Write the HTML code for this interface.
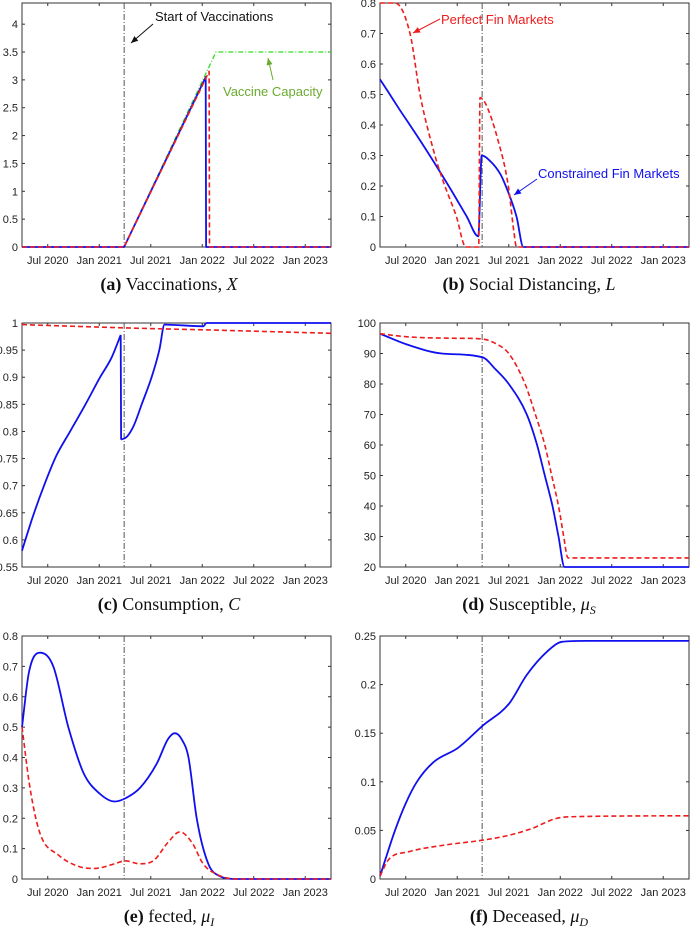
<!DOCTYPE html>
<html><head><meta charset="utf-8"><style>
html,body{margin:0;padding:0;background:#fff;}
svg{display:block;font-family:"Liberation Sans",sans-serif;}
.tk{font-size:11px;fill:#222;}
.cap{font-family:"Liberation Serif",serif;font-size:18px;fill:#111;}
</style></head><body>
<svg id="fig" width="690" height="926" viewBox="0 0 690 926"></svg>
<script>
// time axis: months since Apr 2020
const xTickMonths=[3,9,15,21,27,33];
const xTickLabels=["Jul 2020","Jan 2021","Jul 2021","Jan 2022","Jul 2022","Jan 2023"];
const vaxStart=11.9;
// (a) Vaccinations
const aBlueT=[0,11.9,21.4,21.45,36], aBlueV=[0,0,3.05,0,0];
const aRedT=[0,11.9,21.8,21.85,36], aRedV=[0,0,3.15,0,0];
const aGreenT=[0,11.9,22.6,36], aGreenV=[0,0,3.5,3.5];
// (b) Social distancing
const bRedT=[0,1.75,3.5,4.66,6.4,7.3,8.9,10.0,11.5,11.65,12.3,13.75,14.95,15.6,15.9,36];
const bRedV=[0.8,0.8,0.7,0.5,0.3,0.22,0.1,0,0,0.49,0.47,0.35,0.2,0.05,0,0];
const bBlueT=[0,2.3,4.66,8.0,10.1,11.45,11.85,12.9,14.0,14.8,15.9,16.7,36];
const bBlueV=[0.55,0.45,0.35,0.2,0.1,0.035,0.3,0.28,0.24,0.19,0.1,0,0];
// (c) Consumption
const cBlueT=[0,1.2,2.56,4.0,5.6,7.4,9.1,10.4,11.5,11.55,12.2,13.0,13.95,15.1,16.0,16.6,21.1,21.5,36];
const cBlueV=[0.58,0.64,0.7,0.755,0.8,0.85,0.9,0.935,0.978,0.785,0.79,0.81,0.85,0.9,0.95,0.997,0.994,1.0,1.0];
const cRedT=[0,12,22,36], cRedV=[0.997,0.991,0.987,0.981];
// (d) Susceptible
const dBlueT=[0,3.1,7.2,12,13.4,15,17.1,18.3,19.2,20.1,20.8,21.5,36];
const dBlueV=[96.5,93,90,88.7,85,80,70,60,50,40,30,20,20];
const dRedT=[0,3,9,11.8,13.3,15,16.9,18.1,19.2,20,20.8,21.4,21.9,36];
const dRedV=[96.5,95.5,95,94.8,93.5,90,80,70,60,50,40,30,23,23];
// (e) Infected
const eBlueT=[0,0.8,2.1,3.65,5.4,7.15,9.1,10.8,12,13.75,15.7,17.0,17.8,18.6,19.4,20.35,21.7,23,25,36];
const eBlueV=[0.5,0.68,0.745,0.7,0.5,0.35,0.28,0.255,0.265,0.3,0.38,0.46,0.48,0.46,0.4,0.2,0.05,0.01,0,0];
const eRedT=[0,0.93,2.1,4.2,6.75,8.5,10.8,12,13.75,15.3,17,18.4,19.8,21.1,22.7,25,36];
const eRedV=[0.5,0.3,0.15,0.08,0.04,0.035,0.05,0.06,0.05,0.06,0.12,0.155,0.12,0.05,0.015,0,0];
// (f) Deceased
const fBlueT=[0,1.75,3,4.3,6.2,9.1,12,15,17.1,19.6,21.2,24,36];
const fBlueV=[0.003,0.05,0.078,0.1,0.12,0.135,0.158,0.18,0.21,0.235,0.244,0.245,0.245];
const fRedT=[0,1,3.3,7.6,12,15,17.7,20.4,22,36];
const fRedV=[0.003,0.02,0.028,0.035,0.04,0.045,0.052,0.062,0.064,0.065];

const NS="http://www.w3.org/2000/svg";
const svg=document.getElementById('fig');
function mk(tag,attrs,parent){const e=document.createElementNS(NS,tag);for(const k in attrs)e.setAttribute(k,attrs[k]);(parent||svg).appendChild(e);return e;}

// monotone cubic path through pixel points
function monoPath(P){
  const n=P.length;
  if(n<3)return 'M'+P.map(p=>p[0].toFixed(1)+','+p[1].toFixed(1)).join(' L');
  const d=[],m=[];
  for(let i=0;i<n-1;i++){const dx=P[i+1][0]-P[i][0];d.push(dx===0?0:(P[i+1][1]-P[i][1])/dx);}
  m[0]=d[0];m[n-1]=d[n-2];
  for(let i=1;i<n-1;i++){m[i]=(d[i-1]*d[i]<=0)?0:(d[i-1]+d[i])/2;}
  for(let i=0;i<n-1;i++){
    if(d[i]===0){m[i]=0;m[i+1]=0;continue;}
    const a=m[i]/d[i],b=m[i+1]/d[i],s=a*a+b*b;
    if(s>9){const t=3/Math.sqrt(s);m[i]=t*a*d[i];m[i+1]=t*b*d[i];}
  }
  let s='M'+P[0][0].toFixed(1)+','+P[0][1].toFixed(1);
  for(let i=0;i<n-1;i++){
    const h=(P[i+1][0]-P[i][0])/3;
    s+=' C'+(P[i][0]+h).toFixed(1)+','+(P[i][1]+m[i]*h).toFixed(1)+' '+(P[i+1][0]-h).toFixed(1)+','+(P[i+1][1]-m[i+1]*h).toFixed(1)+' '+P[i+1][0].toFixed(1)+','+P[i+1][1].toFixed(1);
  }
  return s;
}
function buildPath(P){
  // split at near-vertical jumps
  const segs=[[P[0]]];
  for(let i=1;i<P.length;i++){
    if(P[i][0]-P[i-1][0]<1.0){segs.push([P[i-1],P[i]]);segs.push([P[i]]);}
    else segs[segs.length-1].push(P[i]);
  }
  return segs.filter(s=>s.length>1).map(monoPath).join(' ');
}

function panel(cfg){
  const g=mk('g',{});
  
  
  const L=cfg.x0,R=cfg.x1,T=cfg.y0,B=cfg.y1;
  const sx=t=>L+(R-L)*t/36;
  const sy=v=>B-(B-T)*(v-cfg.ymin)/(cfg.ymax-cfg.ymin);
  const box=mk('rect',{x:L,y:T,width:R-L,height:B-T,fill:'none',stroke:'#333','stroke-width':1},g);
  
  
  xTickMonths.forEach((m,i)=>{
    const x=sx(m);
    mk('line',{x1:x,x2:x,y1:B,y2:B-3,stroke:'#333'},g);
    mk('line',{x1:x,x2:x,y1:T,y2:T+3,stroke:'#333'},g);
    const t=mk('text',{x:x,y:B+17,'text-anchor':'middle',class:'tk'},g);
    t.textContent=xTickLabels[i];
    
    
  });
  cfg.yTicks.forEach((v,i)=>{
    const y=sy(v);
    mk('line',{x1:L,x2:L+3,y1:y,y2:y,stroke:'#333'},g);
    mk('line',{x1:R,x2:R-3,y1:y,y2:y,stroke:'#333'},g);
    const t=mk('text',{x:L-4,y:y+4,'text-anchor':'end',class:'tk'},g);
    t.textContent=cfg.yLabels[i];
    
    
  });
  const vl=mk('line',{x1:sx(vaxStart),x2:sx(vaxStart),y1:T,y2:B,stroke:'#555','stroke-width':1,'stroke-dasharray':'6,2,1,2'},g);
  
  
  cfg.series.forEach(s=>{
    const P=s.t.map((t,i)=>[sx(t),sy(s.v[i])]);
    const p=mk('path',{d:s.straight?'M'+P.map(q=>q[0].toFixed(1)+','+q[1].toFixed(1)).join(' L'):buildPath(P),fill:'none',stroke:s.color,'stroke-width':s.w,'stroke-dasharray':s.dash||'none','stroke-linejoin':'round'},g);
    
    
  });
  const c=mk('text',{x:cfg.capX,y:cfg.capY,'text-anchor':'middle',class:'cap'},g);
  
  
  c.innerHTML='<tspan font-weight="bold">('+cfg.letter+')</tspan> '+cfg.cap;
  return {g,sx,sy};
}
const red='#ee1c1c',blue='#1010ee',green='#33dd22';
const RD='5,3';
function rng(a,b,s){const r=[];for(let v=a;v<=b+1e-9;v+=s)r.push(+v.toFixed(3));return r;}

panel({name:'panel-vaccinations',letter:'a',cap:'Vaccinations, <tspan font-style="italic">X</tspan>',x0:22,x1:331,y0:3,y1:247,ymin:0,ymax:4.38,
 yTicks:rng(0,4,0.5),yLabels:['0','0.5','1','1.5','2','2.5','3','3.5','4'],capX:169,capY:290,
 series:[{name:'vaccine-capacity-line',t:aGreenT,v:aGreenV,color:green,w:1.3,dash:'5,2,1,2',straight:true},
 {name:'constrained-fin-markets-line',t:aBlueT,v:aBlueV,color:blue,w:1.8,straight:true},
 {name:'perfect-fin-markets-line',t:aRedT,v:aRedV,color:red,w:1.6,dash:RD,straight:true}]});
panel({name:'panel-social-distancing',letter:'b',cap:'Social Distancing, <tspan font-style="italic">L</tspan>',x0:380,x1:689,y0:3,y1:247,ymin:0,ymax:0.8,
 yTicks:rng(0,0.8,0.1),yLabels:['0','0.1','0.2','0.3','0.4','0.5','0.6','0.7','0.8'],capX:529,capY:290,
 series:[{name:'constrained-fin-markets-line',t:bBlueT,v:bBlueV,color:blue,w:1.8},
 {name:'perfect-fin-markets-line',t:bRedT,v:bRedV,color:red,w:1.6,dash:RD}]});
panel({name:'panel-consumption',letter:'c',cap:'Consumption, <tspan font-style="italic">C</tspan>',x0:22,x1:331,y0:323,y1:567,ymin:0.55,ymax:1,
 yTicks:rng(0.55,1,0.05),yLabels:['0.55','0.6','0.65','0.7','0.75','0.8','0.85','0.9','0.95','1'],capX:169,capY:610,
 series:[{name:'constrained-fin-markets-line',t:cBlueT,v:cBlueV,color:blue,w:1.8},
 {name:'perfect-fin-markets-line',t:cRedT,v:cRedV,color:red,w:1.6,dash:RD}]});
panel({name:'panel-susceptible',letter:'d',cap:'Susceptible, <tspan font-style="italic">μ<tspan font-size="12" dy="4">S</tspan></tspan>',x0:380,x1:689,y0:323,y1:567,ymin:20,ymax:100,
 yTicks:rng(20,100,10),yLabels:['20','30','40','50','60','70','80','90','100'],capX:529,capY:610,
 series:[{name:'constrained-fin-markets-line',t:dBlueT,v:dBlueV,color:blue,w:1.8},
 {name:'perfect-fin-markets-line',t:dRedT,v:dRedV,color:red,w:1.6,dash:RD}]});
panel({name:'panel-infected',letter:'e',cap:'fected, <tspan font-style="italic">μ<tspan font-size="12" dy="4">I</tspan></tspan>',x0:22,x1:331,y0:636,y1:879,ymin:0,ymax:0.8,
 yTicks:rng(0,0.8,0.1),yLabels:['0','0.1','0.2','0.3','0.4','0.5','0.6','0.7','0.8'],capX:169,capY:922,
 series:[{name:'constrained-fin-markets-line',t:eBlueT,v:eBlueV,color:blue,w:1.8},
 {name:'perfect-fin-markets-line',t:eRedT,v:eRedV,color:red,w:1.6,dash:RD}]});
panel({name:'panel-deceased',letter:'f',cap:'Deceased, <tspan font-style="italic">μ<tspan font-size="12" dy="4">D</tspan></tspan>',x0:380,x1:689,y0:636,y1:879,ymin:0,ymax:0.25,
 yTicks:rng(0,0.25,0.05),yLabels:['0','0.05','0.1','0.15','0.2','0.25'],capX:529,capY:922,
 series:[{name:'constrained-fin-markets-line',t:fBlueT,v:fBlueV,color:blue,w:1.8},
 {name:'perfect-fin-markets-line',t:fRedT,v:fRedV,color:red,w:1.6,dash:RD}]});

// annotations
function arrow(x1,y1,x2,y2,color,name){
  const g=mk('g',{});
  
  
  mk('line',{x1,y1,x2,y2,stroke:color,'stroke-width':1},g);
  const a=Math.atan2(y2-y1,x2-x1),h=7,w=3;
  const bx=x2-h*Math.cos(a),by=y2-h*Math.sin(a);
  mk('polygon',{points:`${x2},${y2} ${bx-w*Math.sin(a)},${by+w*Math.cos(a)} ${bx+w*Math.sin(a)},${by-w*Math.cos(a)}`,fill:color},g);
}
function label(x,y,txt,color,name){
  const t=mk('text',{x,y,fill:color,'font-size':'13px'});
  t.textContent=txt;
  
  
}
label(155,21,'Start of Vaccinations','#111','start-of-vaccinations-label');
arrow(153,24,131,43,'#111','start-of-vaccinations-arrow');
label(223,96,'Vaccine Capacity','#6aaa30','vaccine-capacity-label');
arrow(273,80,268,58,'#6aaa30','vaccine-capacity-arrow');
label(441,24,'Perfect Fin Markets',red,'perfect-fin-markets-label');
arrow(440,19,413,33,red,'perfect-fin-markets-arrow');
label(538,178,'Constrained Fin Markets',blue,'constrained-fin-markets-label');
arrow(537,179,514,195,blue,'constrained-fin-markets-arrow');
</script>
</body></html>
